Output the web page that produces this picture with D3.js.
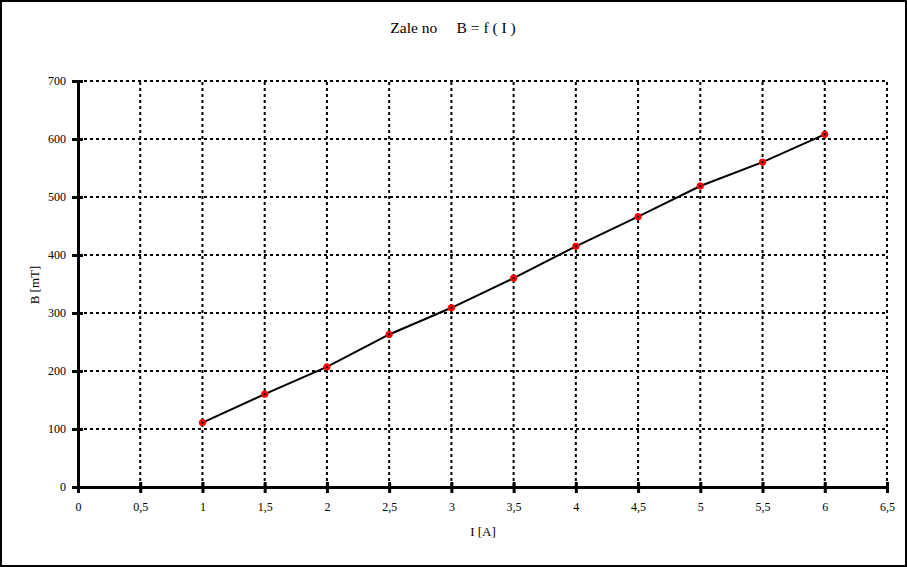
<!DOCTYPE html>
<html><head><meta charset="utf-8">
<script src="https://cdn.jsdelivr.net/npm/d3@7/dist/d3.min.js"></script>
<style>body{margin:0;background:#fff}svg{display:block}text{font-family:"Liberation Serif","Times New Roman",serif;fill:#000}</style>
</head><body><svg id="c" width="907" height="567"></svg>
<script>
const currentA = [1, 1.5, 2, 2.5, 3, 3.5, 4, 4.5, 5, 5.5, 6];
const fieldMT = [111, 160, 207, 263, 309, 360, 415, 466, 519, 560, 608];
const xTicks = [0, 0.5, 1, 1.5, 2, 2.5, 3, 3.5, 4, 4.5, 5, 5.5, 6, 6.5];
const yTicks = [0, 100, 200, 300, 400, 500, 600, 700];
const title = "Zale no     B = f ( I )";

const svg = d3.select("#c");
svg.append("rect").attr("x",1).attr("y",1).attr("width",905).attr("height",565)
  .attr("fill","none").attr("stroke","#000").attr("stroke-width",2);
const x = d3.scaleLinear().domain([0,6.5]).range([78,887]);
const y = d3.scaleLinear().domain([0,700]).range([487,81]);
const fmt = d => String(d).replace(".", ",");

// grid
const g = svg.append("g");
g.selectAll(".vx").data(xTicks.slice(1)).join("line")
  .attr("x1",d=>x(d)).attr("x2",d=>x(d)).attr("y1",y(0)).attr("y2",y(700))
  .attr("stroke","#000").attr("stroke-width",2).attr("stroke-dasharray","3,3");
g.selectAll(".hy").data(yTicks.slice(1)).join("line")
  .attr("y1",d=>y(d)).attr("y2",d=>y(d)).attr("x1",x(0)).attr("x2",x(6.5))
  .attr("stroke","#000").attr("stroke-width",2).attr("stroke-dasharray","3,3");

// axes
const xa = svg.append("g").attr("transform",`translate(0,${y(0)})`)
  .call(d3.axisBottom(x).tickValues(xTicks).tickFormat(fmt).tickSize(6).tickPadding(9));
const ya = svg.append("g").attr("transform",`translate(${x(0)},0)`)
  .call(d3.axisLeft(y).tickValues(yTicks).tickSize(6).tickPadding(6));
[xa,ya].forEach(a=>{
  a.select(".domain").attr("stroke","#000").attr("stroke-width",3);
  a.selectAll(".tick line").attr("stroke","#000").attr("stroke-width",3);
  a.selectAll("text").attr("font-family","Liberation Serif").attr("font-size",12).attr("fill","#222");
});
xa.selectAll(".tick line").attr("y1",-5).attr("y2",6);
ya.selectAll(".tick line").attr("x1",5).attr("x2",-6);

// line
const line = d3.line().x((d,i)=>x(currentA[i])).y(d=>y(d));
svg.append("path").datum(fieldMT).attr("d",line).attr("fill","none")
  .attr("stroke","#000").attr("stroke-width",2);
svg.selectAll(".pt").data(fieldMT).join("circle")
  .attr("cx",(d,i)=>x(currentA[i])).attr("cy",d=>y(d)).attr("r",3.2)
  .attr("fill","#f00").attr("stroke","#f00").attr("stroke-width",1);
svg.selectAll(".pc").data(fieldMT).join("rect")
  .attr("x",(d,i)=>x(currentA[i])-1).attr("y",d=>y(d)-1).attr("width",2).attr("height",2).attr("fill","#000");

// labels
svg.append("text").attr("x",453).attr("y",33).attr("text-anchor","middle")
  .attr("font-size",15.5).attr("fill","#222").style("white-space","pre").text(title);
svg.append("text").attr("x",483).attr("y",536).attr("text-anchor","middle")
  .attr("font-size",13).attr("fill","#222").text("I [A]");
svg.append("text").attr("transform","translate(39,285) rotate(-90)").attr("text-anchor","middle")
  .attr("font-size",13).attr("fill","#222").text("B [mT]");
</script></body></html>
